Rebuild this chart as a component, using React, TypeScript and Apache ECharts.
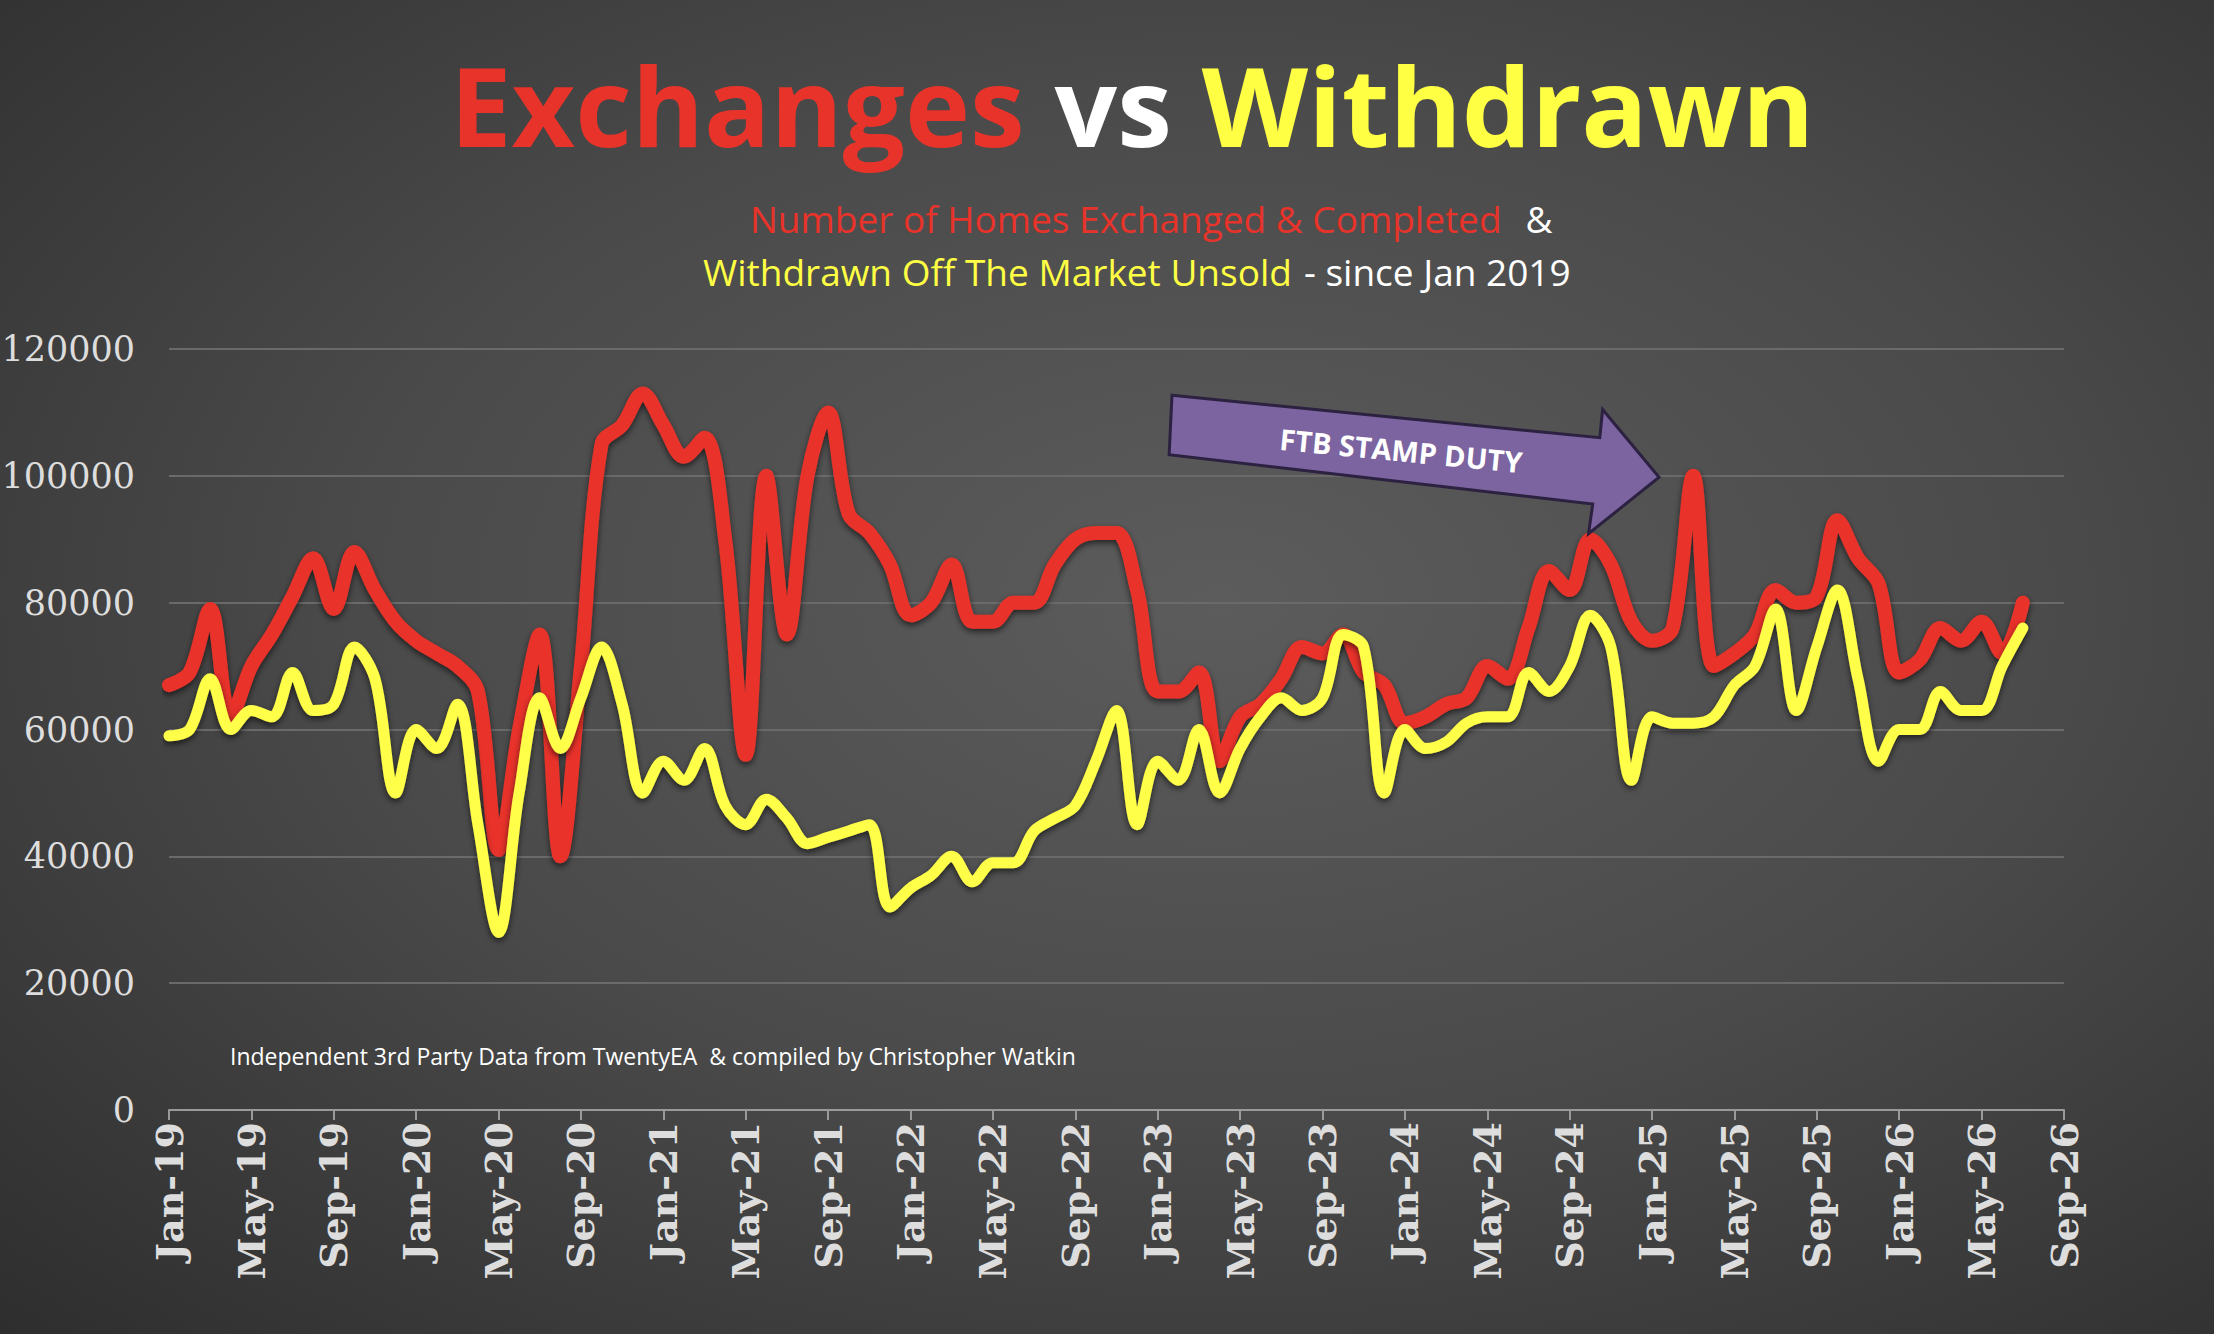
import React, { useEffect, useRef } from "react";
import * as echarts from "echarts";

const monthNames = ["Jan", "Feb", "Mar", "Apr", "May", "Jun", "Jul", "Aug", "Sep", "Oct", "Nov", "Dec"];
const years = ["19", "20", "21", "22", "23", "24", "25", "26"];

// monthly, Jan-19 .. Jul-26
const exchanges = [
  67000, 69000, 79000, 62000, 70000, 75000, 81000, 87000, 79000, 88000, 82000, 77000,
  74000, 72000, 70000, 66000, 41000, 60000, 75000, 40000, 70000, 105000, 108000, 113000,
  108000, 103000, 106000, 90000, 56000, 100000, 75000, 100000, 110000, 94000, 91000, 86000,
  78000, 80000, 86000, 77000, 77000, 80000, 80000, 86000, 90000, 91000, 91000, 82000,
  66000, 66000, 69000, 55000, 62000, 64000, 68000, 73000, 72000, 75000, 69000, 67000,
  61000, 62000, 64000, 65000, 70000, 68000, 76000, 85000, 82000, 90000, 86000, 77000,
  74000, 76000, 100000, 70000, 72000, 75000, 82000, 80000, 81000, 93000, 87000, 83000,
  69000, 71000, 76000, 74000, 77000, 72000, 80000,
];

const withdrawn = [
  59000, 60000, 68000, 60000, 63000, 62000, 69000, 63000, 64000, 73000, 68000, 50000,
  60000, 57000, 64000, 45000, 28000, 50000, 65000, 57000, 65000, 73000, 64000, 50000,
  55000, 52000, 57000, 48000, 45000, 49000, 46000, 42000, 43000, 44000, 45000, 32000,
  35000, 37000, 40000, 36000, 39000, 39000, 44000, 46000, 48000, 55000, 63000, 45000,
  55000, 52000, 60000, 50000, 57000, 62000, 65000, 63000, 65000, 75000, 73000, 50000,
  60000, 57000, 58000, 61000, 62000, 62000, 69000, 66000, 70000, 78000, 73000, 52000,
  62000, 61000, 61000, 62000, 67000, 70000, 79000, 63000, 73000, 82000, 68000, 55000,
  60000, 60000, 66000, 63000, 63000, 70000, 76000,
];

// axis runs Jan-19 .. Sep-26
const categories: string[] = [];
years.forEach((y) => monthNames.forEach((m) => categories.push(`${m}-${y}`)));
categories.length = 93;

const S = 1.412;

const App: React.FC = () => {
  const chartRef = useRef<HTMLDivElement>(null);

  useEffect(() => {
    if (!chartRef.current) return;
    const chart = echarts.init(chartRef.current, undefined, { renderer: "svg" });

    const arrowPts = [
      [830, 280], [1133, 310], [1135, 290], [1175, 338], [1125, 378], [1128, 357], [828, 322],
    ].map(([x, y]) => [x * S, y * S]);

    const big = { fontSize: 110, fontWeight: "bold" as const, fontFamily: "Open Sans" };

    const option: echarts.EChartsOption = {
      animation: false,
      backgroundColor: "transparent",
      title: {
        text: "{r|Exchanges}{w|vs}{y|Withdrawn}",
        left: 445,
        top: 44,
        textStyle: {
          rich: {
            r: { ...big, color: "#e8332a" },
            w: { ...big, color: "#ffffff", padding: [0, 30, 0, 30] },
            y: { ...big, color: "#ffff44" },
          },
        },
      },
      graphic: [
        {
          type: "text",
          left: 750,
          top: 200,
          style: {
            text: "{r|Number of Homes Exchanged & Completed}{w|&}",
            rich: {
              r: { fill: "#e8332a", fontSize: 37, fontFamily: "Open Sans" },
              w: { fill: "#ffffff", fontSize: 37, fontFamily: "Open Sans", padding: [0, 0, 0, 24] },
            },
          },
        },
        {
          type: "text",
          left: 703,
          top: 253,
          style: {
            text: "{y|Withdrawn Off The Market Unsold}{w|- since Jan 2019}",
            rich: {
              y: { fill: "#ffff44", fontSize: 37, fontFamily: "Open Sans" },
              w: { fill: "#ffffff", fontSize: 37, fontFamily: "Open Sans", padding: [0, 0, 0, 12] },
            },
          },
        },
        {
          type: "text",
          left: 230,
          top: 1044,
          style: {
            text: "Independent 3rd Party Data from TwentyEA  & compiled by Christopher Watkin",
            fill: "#ffffff",
            fontSize: 23,
            fontFamily: "Open Sans",
          },
        },
        {
          type: "polygon",
          shape: { points: arrowPts },
          style: { fill: "#7b64a0", stroke: "#2c2140", lineWidth: 3 },
          z: 10,
        },
        {
          type: "text",
          x: 1401,
          y: 450,
          rotation: -5.5 * Math.PI / 180,
          style: {
            text: "FTB STAMP DUTY",
            fill: "#ffffff",
            fontSize: 29,
            fontWeight: "bold",
            fontFamily: "Open Sans",
            align: "center",
            verticalAlign: "middle",
          },
          z: 11,
        },
      ],
      grid: { left: 169, right: 150, top: 349, bottom: 224, outerBoundsMode: "none" } as any,
      xAxis: {
        type: "category",
        data: categories,
        boundaryGap: false,
        axisLine: { lineStyle: { color: "#9a9a9a", width: 2 } },
        axisTick: { interval: 3, length: 10, lineStyle: { color: "#9a9a9a", width: 2 } },
        axisLabel: {
          interval: 3,
          rotate: 90,
          color: "#dddddd",
          fontSize: 38,
          fontWeight: "bold",
          fontFamily: "DejaVu Serif",
          margin: 12,
        },
      },
      yAxis: {
        type: "value",
        min: 0,
        max: 120000,
        interval: 20000,
        axisLabel: {
          color: "#dddddd",
          fontSize: 35,
          fontFamily: "DejaVu Serif",
          margin: 34,
          formatter: (v: number) => String(v),
        },
        splitLine: { lineStyle: { color: "#6a6a6a", width: 2 } },
      },
      series: [
        {
          name: "Exchanges",
          type: "line",
          data: exchanges,
          smooth: 0.35,
          symbol: "none",
          lineStyle: {
            color: "#e8332a",
            width: 14,
            cap: "round",
            join: "round",
            shadowColor: "rgba(0,0,0,0.6)",
            shadowBlur: 6,
            shadowOffsetY: 3,
          },
        },
        {
          name: "Withdrawn",
          type: "line",
          data: withdrawn,
          smooth: 0.35,
          symbol: "none",
          lineStyle: {
            color: "#ffff4a",
            width: 11,
            cap: "round",
            join: "round",
            shadowColor: "rgba(0,0,0,0.6)",
            shadowBlur: 6,
            shadowOffsetY: 3,
          },
        },
      ],
    };

    chart.setOption(option);
    return () => chart.dispose();
  }, []);

  return (
    <div
      style={{
        position: "absolute",
        left: 0,
        top: 0,
        width: 2214,
        height: 1334,
        background: "radial-gradient(ellipse at 55% 45%, #5c5c5c 0%, #4a4a4a 50%, #2e2e2e 100%)",
      }}
    >
      <div ref={chartRef} style={{ width: 2214, height: 1334 }} />
    </div>
  );
};

export default App;
